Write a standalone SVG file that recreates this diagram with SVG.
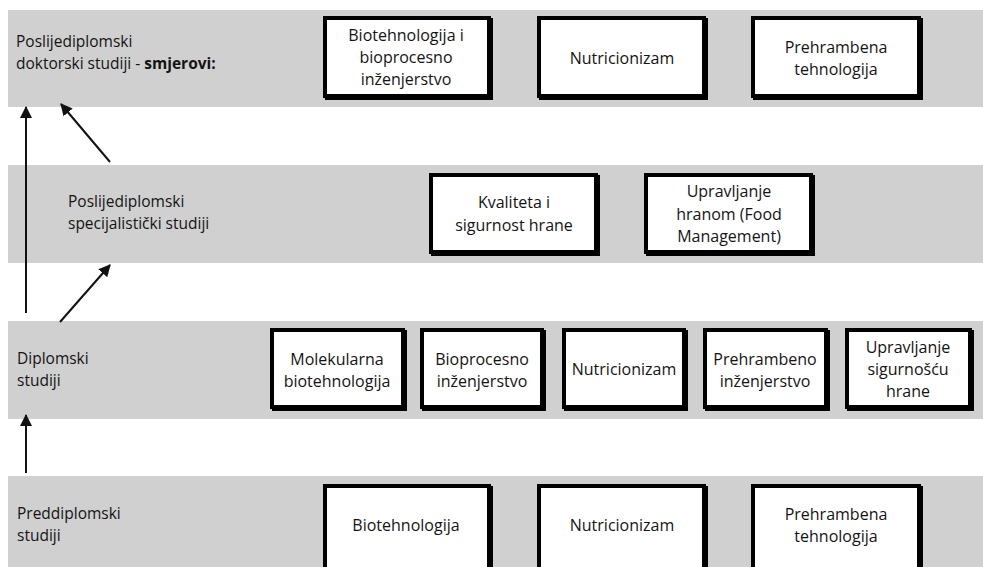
<svg xmlns="http://www.w3.org/2000/svg" width="983" height="567" viewBox="0 0 983 567">
<style>
.band{fill:#d0d0d0}
.shadow{fill:#000}
.box{fill:#fff;stroke:#000;stroke-width:4}
text{font-family:"Open Sans","Noto Sans","Liberation Sans",sans-serif;font-size:16px;fill:#141414}
.lbl{font-size:15.5px}
.c{text-anchor:middle}
.conn{stroke:#111;stroke-width:2;fill:none}
</style>
<defs>
<marker id="ah" markerUnits="userSpaceOnUse" markerWidth="12" markerHeight="12" refX="11" refY="6" orient="auto">
<path d="M0,0 L12,6 L0,12 z" fill="#111"/>
</marker>
</defs>
<rect width="983" height="567" fill="#fff"/>
<g id="bands">
<rect class="band" x="8" y="10" width="975" height="97"/>
<rect class="band" x="8" y="165" width="975" height="98"/>
<rect class="band" x="8" y="321" width="975" height="98"/>
<rect class="band" x="8" y="476" width="975" height="91"/>
</g>
<g id="level-labels">
<text class="lbl" x="16" y="47">Poslijediplomski</text>
<text class="lbl" x="16" y="68.5">doktorski studiji - <tspan font-weight="bold">smjerovi:</tspan></text>
<text class="lbl" x="68" y="207">Poslijediplomski</text>
<text class="lbl" x="68" y="228.5">specijalistički studiji</text>
<text class="lbl" x="17" y="364">Diplomski</text>
<text class="lbl" x="17" y="385.5">studiji</text>
<text class="lbl" x="17" y="519">Preddiplomski</text>
<text class="lbl" x="17" y="540.5">studiji</text>
</g>
<g id="connectors">
<line class="conn" x1="26" y1="313" x2="26" y2="107" marker-end="url(#ah)"/>
<line class="conn" x1="110" y1="162" x2="61" y2="104" marker-end="url(#ah)"/>
<line class="conn" x1="60" y1="322" x2="110" y2="265" marker-end="url(#ah)"/>
<line class="conn" x1="26" y1="473" x2="26" y2="415" marker-end="url(#ah)"/>
</g>
<g id="d-biotech">
<rect class="shadow" x="325" y="18" width="168" height="82"/>
<rect class="box" x="325" y="18" width="164" height="78"/>
<text class="c" x="406" y="41">Biotehnologija i</text>
<text class="c" x="406" y="63">bioprocesno</text>
<text class="c" x="406" y="85">inženjerstvo</text>
</g>
<g id="d-nutri">
<rect class="shadow" x="539" y="18" width="169" height="82"/>
<rect class="box" x="539" y="18" width="165" height="78"/>
<text class="c" x="622" y="64">Nutricionizam</text>
</g>
<g id="d-prehr">
<rect class="shadow" x="753" y="18" width="170" height="82"/>
<rect class="box" x="753" y="18" width="166" height="78"/>
<text class="c" x="836" y="53">Prehrambena</text>
<text class="c" x="836" y="75">tehnologija</text>
</g>
<g id="s-kval">
<rect class="shadow" x="431" y="175" width="169" height="81"/>
<rect class="box" x="431" y="175" width="165" height="77"/>
<text class="c" x="514" y="208">Kvaliteta i</text>
<text class="c" x="514" y="231">sigurnost hrane</text>
</g>
<g id="s-food">
<rect class="shadow" x="646" y="175" width="169" height="81"/>
<rect class="box" x="646" y="175" width="165" height="77"/>
<text class="c" x="729" y="197">Upravljanje</text>
<text class="c" x="729" y="220">hranom (Food</text>
<text class="c" x="729" y="242">Management)</text>
</g>
<g id="m-molek">
<rect class="shadow" x="272" y="330" width="135" height="81"/>
<rect class="box" x="272" y="330" width="131" height="77"/>
<text class="c" x="337" y="365">Molekularna</text>
<text class="c" x="337" y="387">biotehnologija</text>
</g>
<g id="m-bioproc">
<rect class="shadow" x="422" y="330" width="124" height="81"/>
<rect class="box" x="422" y="330" width="120" height="77"/>
<text class="c" x="482" y="365">Bioprocesno</text>
<text class="c" x="482" y="387">inženjerstvo</text>
</g>
<g id="m-nutri">
<rect class="shadow" x="564" y="330" width="124" height="81"/>
<rect class="box" x="564" y="330" width="120" height="77"/>
<text class="c" x="624" y="375">Nutricionizam</text>
</g>
<g id="m-prehr">
<rect class="shadow" x="705" y="330" width="125" height="81"/>
<rect class="box" x="705" y="330" width="121" height="77"/>
<text class="c" x="765" y="365">Prehrambeno</text>
<text class="c" x="765" y="387">inženjerstvo</text>
</g>
<g id="m-uprav">
<rect class="shadow" x="847" y="330" width="127" height="81"/>
<rect class="box" x="847" y="330" width="123" height="77"/>
<text class="c" x="908" y="353">Upravljanje</text>
<text class="c" x="908" y="375">sigurnošću</text>
<text class="c" x="908" y="397">hrane</text>
</g>
<g id="u-biotech">
<rect class="shadow" x="325" y="486" width="168" height="92"/>
<rect class="box" x="325" y="486" width="164" height="88"/>
<text class="c" x="406" y="531">Biotehnologija</text>
</g>
<g id="u-nutri">
<rect class="shadow" x="539" y="486" width="169" height="92"/>
<rect class="box" x="539" y="486" width="165" height="88"/>
<text class="c" x="622" y="531">Nutricionizam</text>
</g>
<g id="u-prehr">
<rect class="shadow" x="753" y="486" width="170" height="92"/>
<rect class="box" x="753" y="486" width="166" height="88"/>
<text class="c" x="836" y="520">Prehrambena</text>
<text class="c" x="836" y="542">tehnologija</text>
</g>
</svg>
